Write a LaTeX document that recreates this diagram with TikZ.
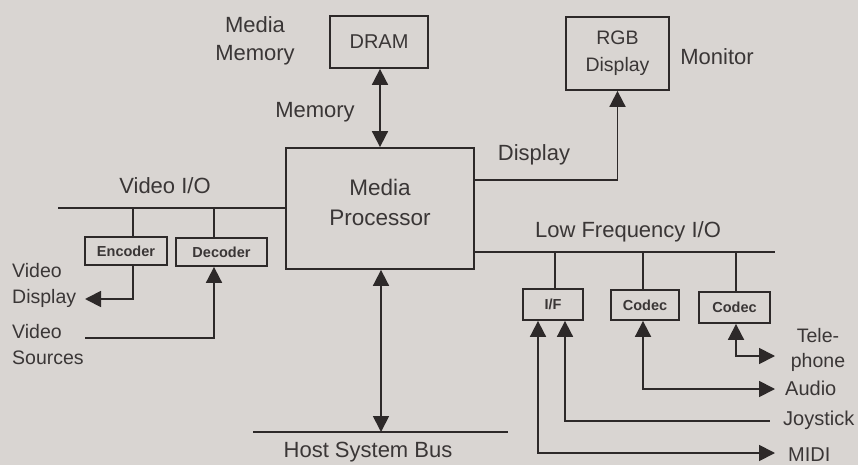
\documentclass[tikz,border=0pt]{standalone}
\usepackage{fontspec}
\setmainfont{Liberation Sans}
\usetikzlibrary{arrows.meta}
\definecolor{paper}{RGB}{217,213,210}
\definecolor{ink}{RGB}{45,41,41}
\definecolor{txt}{RGB}{58,54,54}
\tikzset{
  bigbox/.style={draw=ink, line width=1.8pt, inner sep=0pt, text=txt, align=center},
  smallbox/.style={draw=ink, line width=1.8pt, inner sep=0pt, text=txt, font=\fontsize{14.5}{16}\selectfont\bfseries},
  wire/.style={draw=ink, line width=1.8pt},
  tip/.style={-{Triangle[length=16pt,width=16pt]}},
  bitip/.style={{Triangle[length=16pt,width=16pt]}-{Triangle[length=16pt,width=16pt]}},
  lab/.style={text=txt, inner sep=0pt, font=\fontsize{22}{28}\selectfont, align=center},
  slab/.style={text=txt, inner sep=0pt, font=\fontsize{20}{25}\selectfont},
}
\begin{document}
\begin{tikzpicture}[x=1pt,y=-1pt]
\fill[paper] (0,0) rectangle (858,465);
\useasboundingbox (0,0) rectangle (858,465);

% boxes
\node[bigbox, minimum width=98pt, minimum height=52pt, font=\fontsize{20}{24}\selectfont] (dram) at (379,42) {DRAM};
\node[bigbox, minimum width=188pt, minimum height=121pt, text depth=12pt, font=\fontsize{22.5}{30}\selectfont] (proc) at (380,208.5) {Media\\Processor};
\node[bigbox, minimum width=103pt, minimum height=73pt, font=\fontsize{19.5}{27}\selectfont] (rgb) at (617.5,53.5) {RGB\\Display};
\node[smallbox, minimum width=82pt, minimum height=28pt] (enc) at (126,251) {Encoder};
\node[smallbox, minimum width=91pt, minimum height=28pt] (dec) at (221.5,252) {Decoder};
\node[smallbox, minimum width=60pt, minimum height=31pt] (if) at (553,304.5) {I/F};
\node[smallbox, minimum width=68pt, minimum height=30pt] (codA) at (645,305) {Codec};
\node[smallbox, minimum width=71pt, minimum height=31pt] (codB) at (734.5,307.5) {Codec};

% labels
\node[lab] (lmm) at (255,41) {Media\\Memory};
\node[lab] (lmem) at (315,112) {Memory};
\node[lab] (ldisp) at (534,155) {Display};
\node[lab] (lmon) at (717,57) {Monitor};
\node[lab] (lvio) at (165,186) {Video I/O};
\node[lab] (llf) at (628,232) {Low Frequency I/O};
\node[lab] (lhost) at (368,452) {Host System Bus};
\node[slab, anchor=west, align=left, font=\fontsize{19.5}{26}\selectfont] (lvd) at (12,285) {Video\\Display};
\node[slab, anchor=west, align=left, font=\fontsize{19.5}{26}\selectfont] (lvs) at (12,345) {Video\\Sources};
\node[slab, align=center, font=\fontsize{19.5}{25}\selectfont] (ltel) at (818,350) {Tele-\\phone};
\node[slab, anchor=west] (laud) at (785,388) {Audio};
\node[slab, anchor=west] (ljoy) at (783,420) {Joystick};
\node[slab, anchor=west] (lmidi) at (788,455) {MIDI};

% coordinates
\coordinate (vbL) at (58,208);
\coordinate (vbE) at (133,208);
\coordinate (vbD) at (214,208);
\coordinate (vdTip) at (85,299);
\coordinate (vsStart) at (85,338);
\coordinate (dispPt) at (474,180);
\coordinate (lfR) at (775,252);
\coordinate (lfI) at (555,252);
\coordinate (lfA) at (643,252);
\coordinate (lfB) at (736,252);
\coordinate (hbL) at (253,432);
\coordinate (hbR) at (508,432);
\coordinate (hbM) at (381,432);
\coordinate (midiE) at (775,453);
\coordinate (joyE) at (770,421);
\coordinate (audE) at (775,389);
\coordinate (telE) at (775,356);

% video I/O bus
\draw[wire] (vbL) -- (proc.west |- vbL);
\draw[wire] (vbE) -- (enc.north -| vbE);
\draw[wire] (vbD) -- (dec.north -| vbD);
\draw[wire, tip] (enc.south -| vbE) |- (vdTip);
\draw[wire, tip] (vsStart) -| (dec.south -| vbD);

% memory
\draw[wire, bitip] (dram.south -| proc.north) -- (proc.north);

% display
\draw[wire, tip] (dispPt) -| (rgb.south);

% host bus
\draw[wire] (hbL) -- (hbR);
\draw[wire, bitip] (proc.south -| hbM) -- (hbM);

% low frequency bus
\draw[wire] (proc.east |- lfR) -- (lfR);
\draw[wire] (lfI) -- (if.north -| lfI);
\draw[wire] (lfA) -- (codA.north -| lfA);
\draw[wire] (lfB) -- (codB.north -| lfB);

\draw[wire, bitip] (if.south -| 538,0) |- (midiE);
\draw[wire, {Triangle[length=16pt,width=16pt]}-] (if.south -| 565,0) |- (joyE);
\draw[wire, bitip] (codA.south -| lfA) |- (audE);
\draw[wire, bitip] (codB.south -| lfB) |- (telE);
\end{tikzpicture}
\end{document}
